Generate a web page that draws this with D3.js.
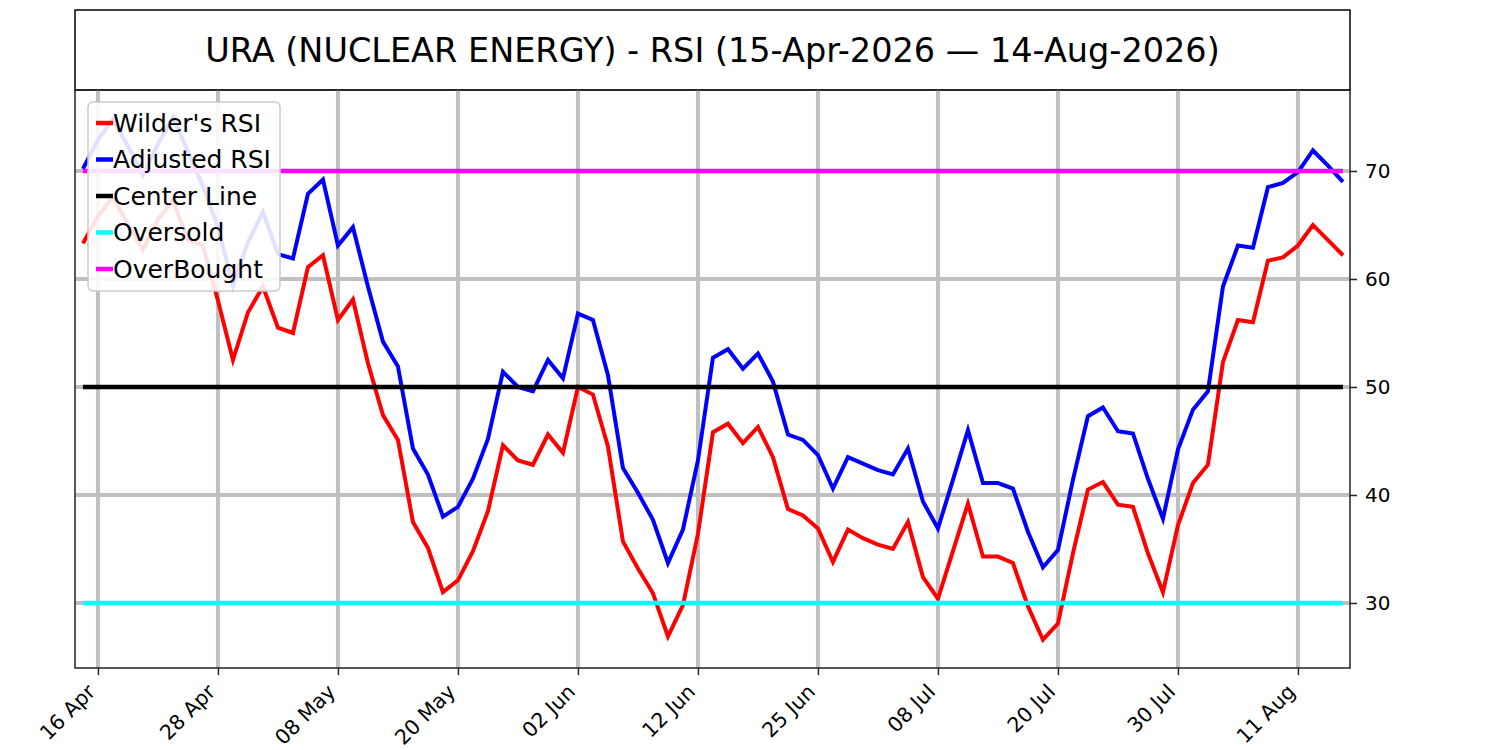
<!DOCTYPE html>
<html>
<head>
<meta charset="utf-8">
<script src="https://cdn.jsdelivr.net/npm/d3@7"></script>
<style>
  body { margin: 0; background: #fff; }
  text { font-family: "DejaVu Sans", sans-serif; }
</style>
</head>
<body>
<div id="chart-area"></div>
<script>
// trading days, 15 Apr 2026 - 14 Aug 2026
var dates = [
  "2026-04-15","2026-04-16","2026-04-17","2026-04-20","2026-04-21","2026-04-22","2026-04-23","2026-04-24","2026-04-27","2026-04-28","2026-04-29","2026-04-30",
  "2026-05-01","2026-05-04","2026-05-05","2026-05-06","2026-05-07","2026-05-08","2026-05-11","2026-05-12","2026-05-13","2026-05-14","2026-05-15","2026-05-18","2026-05-19","2026-05-20","2026-05-21","2026-05-22","2026-05-26","2026-05-27","2026-05-28","2026-05-29",
  "2026-06-01","2026-06-02","2026-06-03","2026-06-04","2026-06-05","2026-06-08","2026-06-09","2026-06-10","2026-06-11","2026-06-12","2026-06-15","2026-06-16","2026-06-17","2026-06-18","2026-06-22","2026-06-23","2026-06-24","2026-06-25","2026-06-26","2026-06-29","2026-06-30",
  "2026-07-01","2026-07-02","2026-07-06","2026-07-07","2026-07-08","2026-07-09","2026-07-10","2026-07-13","2026-07-14","2026-07-15","2026-07-16","2026-07-17","2026-07-20","2026-07-21","2026-07-22","2026-07-23","2026-07-24","2026-07-27","2026-07-28","2026-07-29","2026-07-30","2026-07-31",
  "2026-08-03","2026-08-04","2026-08-05","2026-08-06","2026-08-07","2026-08-10","2026-08-11","2026-08-12","2026-08-13","2026-08-14"
]

var wilderRSI = [
  63.3, 65.8, 67.6, 65.0, 62.7, 65.5, 67.3, 63.6, 63.1, 58.0, 52.5, 56.9, 59.3, 55.5, 55.0,
  61.1, 62.2, 56.2, 58.1, 52.2, 47.4, 45.1, 37.5, 35.1, 31.0, 32.1, 34.8, 38.5, 44.6,
  43.2, 42.8, 45.6, 43.9, 50.0, 49.3, 44.5, 35.7, 33.2, 30.9, 26.9, 29.8, 36.4, 45.8,
  46.6, 44.8, 46.3, 43.5, 38.7, 38.1, 36.9, 33.8, 36.8, 36.0, 35.4, 35.0, 37.5, 32.4,
  30.4, 34.8, 39.2, 34.3, 34.3, 33.7, 29.7, 26.6, 28.1, 34.6, 40.5, 41.2, 39.1, 38.9,
  34.6, 31.0, 37.2, 41.1, 42.8, 52.3, 56.2, 56.0, 61.7, 62.0, 63.1, 65.0, 63.6, 62.2
]

var adjustedRSI = [
  70.2, 72.9, 74.8, 72.3, 69.6, 72.5, 75.0, 71.8, 68.6, 64.8, 59.4, 63.4, 66.2, 62.3, 61.9,
  67.9, 69.2, 63.1, 64.8, 59.3, 54.2, 51.9, 44.3, 41.9, 38.0, 38.9, 41.5, 45.2, 51.4,
  50.0, 49.6, 52.5, 50.8, 56.8, 56.2, 51.1, 42.5, 40.2, 37.7, 33.7, 36.8, 43.2, 52.7,
  53.5, 51.7, 53.1, 50.5, 45.6, 45.1, 43.7, 40.6, 43.5, 42.9, 42.3, 41.9, 44.3, 39.4,
  36.9, 41.4, 46.0, 41.1, 41.1, 40.6, 36.6, 33.3, 34.9, 41.4, 47.3, 48.1, 45.9, 45.7,
  41.5, 37.8, 44.2, 47.9, 49.6, 59.3, 63.1, 62.9, 68.5, 68.9, 69.9, 71.9, 70.5, 69.0
]

var centerLevel = 50
var oversoldLevel = 30
var overboughtLevel = 70

var yTicks = [30, 40, 50, 60, 70]
// every 8th trading day gets a label, starting with 16 Apr
var xTickIndex = [1, 9, 17, 25, 33, 41, 49, 57, 65, 73, 81]

var width = 1500, height = 750
var plot = { left: 75, right: 1350, top: 90, bottom: 668 }

var svg = d3.select("#chart-area")
  .append("svg")
  .attr("width", width)
  .attr("height", height)

var parse = d3.timeParse("%Y-%m-%d")
var fmt = d3.timeFormat("%d %b")

var x = d3.scaleLinear()
  .domain([-0.53, dates.length - 1 + 0.47])
  .range([plot.left, plot.right])

var y = d3.scaleLinear()
  .domain([23.98, 77.5])
  .range([plot.bottom, plot.top])

// title box
svg.append("rect")
  .attr("x", plot.left).attr("y", 10)
  .attr("width", plot.right - plot.left).attr("height", plot.top - 10)
  .attr("fill", "none").attr("stroke", "#000").attr("stroke-width", 1.5)

svg.append("text")
  .attr("x", (plot.left + plot.right) / 2)
  .attr("y", 50)
  .attr("text-anchor", "middle")
  .attr("dominant-baseline", "central")
  .attr("font-size", 33.5)
  .text("URA (NUCLEAR ENERGY) - RSI (15-Apr-2026 \u2014 14-Aug-2026)")

var g = svg.append("g")

// grid
g.selectAll(".xgrid")
  .data(xTickIndex)
  .enter().append("line")
  .attr("x1", function(d) { return x(d) })
  .attr("x2", function(d) { return x(d) })
  .attr("y1", plot.top).attr("y2", plot.bottom)
  .attr("stroke", "#bfbfbf").attr("stroke-width", 4)

g.selectAll(".ygrid")
  .data(yTicks)
  .enter().append("line")
  .attr("x1", plot.left).attr("x2", plot.right)
  .attr("y1", function(d) { return y(d) })
  .attr("y2", function(d) { return y(d) })
  .attr("stroke", "#bfbfbf").attr("stroke-width", 4)

var line = d3.line()
  .x(function(d, i) { return x(i) })
  .y(function(d) { return y(d) })

var series = [
  { name: "Wilder's RSI", values: wilderRSI, color: "#ff0000", w: 4 },
  { name: "Adjusted RSI", values: adjustedRSI, color: "#0000ff", w: 4 },
  { name: "Center Line", values: dates.map(function() { return centerLevel }), color: "#000000", w: 4.5 },
  { name: "Oversold", values: dates.map(function() { return oversoldLevel }), color: "#00ffff", w: 4.5 },
  { name: "OverBought", values: dates.map(function() { return overboughtLevel }), color: "#ff00ff", w: 4.5 }
]

g.selectAll(".series")
  .data(series)
  .enter().append("path")
  .attr("d", function(d) { return line(d.values) })
  .attr("fill", "none")
  .attr("stroke", function(d) { return d.color })
  .attr("stroke-width", function(d) { return d.w })
  .attr("stroke-linejoin", "miter")

// plot frame
svg.append("rect")
  .attr("x", plot.left).attr("y", plot.top)
  .attr("width", plot.right - plot.left).attr("height", plot.bottom - plot.top)
  .attr("fill", "none").attr("stroke", "#222").attr("stroke-width", 1.5)

// right axis
var yAxis = d3.axisRight(y).tickValues(yTicks).tickSize(7).tickPadding(8)
var ya = svg.append("g")
  .attr("transform", "translate(" + plot.right + ",0)")
  .call(yAxis)
ya.select(".domain").remove()
ya.selectAll("line").attr("stroke", "#222").attr("stroke-width", 1.5)
ya.selectAll("text").attr("font-size", 20).attr("font-family", "DejaVu Sans").attr("fill", "#000")

// bottom axis
var xAxis = d3.axisBottom(x)
  .tickValues(xTickIndex)
  .tickSize(7)
  .tickFormat(function(i) { return fmt(parse(dates[i])) })
var xa = svg.append("g")
  .attr("transform", "translate(0," + plot.bottom + ")")
  .call(xAxis)
xa.select(".domain").remove()
xa.selectAll("line").attr("stroke", "#222").attr("stroke-width", 1.5)
xa.selectAll("text")
  .attr("font-size", 20.5)
  .attr("font-family", "DejaVu Sans")
  .attr("fill", "#000")
  .attr("text-anchor", "end")
  .attr("dy", "0.35em")
  .attr("y", 0)
  .attr("transform", "translate(-7,20) rotate(-45)")

// legend
var leg = svg.append("g").attr("transform", "translate(88,102)")
leg.append("rect")
  .attr("width", 192).attr("height", 189)
  .attr("rx", 5).attr("ry", 5)
  .attr("fill", "#fff").attr("fill-opacity", 0.88)
  .attr("stroke", "#cccccc").attr("stroke-width", 1.5)

var items = leg.selectAll(".item")
  .data(series)
  .enter().append("g")
  .attr("transform", function(d, i) { return "translate(0," + (21 + i * 36.5) + ")" })

items.append("line")
  .attr("x1", 8).attr("x2", 25)
  .attr("stroke", function(d) { return d.color })
  .attr("stroke-width", 4.5)

items.append("text")
  .attr("x", 25)
  .attr("dominant-baseline", "central")
  .attr("font-size", 25)
  .text(function(d) { return d.name })
</script>
</body>
</html>
